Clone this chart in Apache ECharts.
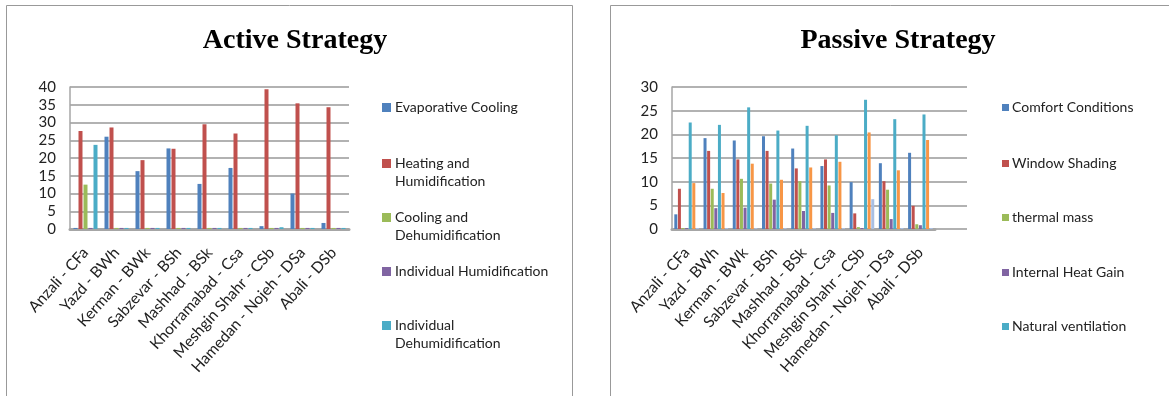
<!DOCTYPE html>
<html><head><meta charset="utf-8">
<script src="https://cdn.jsdelivr.net/npm/echarts@6/dist/echarts.min.js"></script>
<style>html,body{margin:0;padding:0;background:#fff}#c{width:1169px;height:396px}</style>
</head><body><div id="c"></div>
<script>
const categories = ['Anzali - CFa','Yazd - BWh','Kerman - BWk','Sabzevar - BSh','Mashhad - BSk','Khorramabad - Csa','Meshgin Shahr - CSb','Hamedan - Nojeh - DSa','Abali - DSb'];

// Active strategy
const evaporativeCooling      = [0.3, 26.0, 16.3, 22.7, 12.7, 17.2, 0.8, 10.0, 1.7];
const heatingHumidification   = [27.6, 28.6, 19.4, 22.6, 29.5, 26.9, 39.4, 35.4, 34.3];
const coolingDehumidification = [12.5, 0.3, 0.3, 0.3, 0.3, 0.3, 0.3, 0.3, 0.3];
const individualHumidification= [0.3, 0.3, 0.3, 0.3, 0.3, 0.3, 0.3, 0.3, 0.3];
const individualDehumid       = [23.7, 0.3, 0.3, 0.3, 0.3, 0.3, 0.5, 0.3, 0.3];

// Passive strategy
const comfortConditions  = [3.1, 19.2, 18.7, 19.6, 17.0, 13.3, 9.9, 13.9, 16.1];
const windowShading      = [8.5, 16.5, 14.7, 16.5, 12.8, 14.7, 3.3, 10.1, 4.9];
const thermalMass        = [0.2, 8.5, 10.6, 9.6, 10.1, 9.2, 0.4, 8.3, 1.0];
const internalHeatGain   = [0.2, 4.4, 4.5, 6.2, 3.8, 3.4, 0.2, 2.1, 0.8];
const naturalVentilation = [22.5, 22.0, 25.7, 20.8, 21.8, 19.8, 27.3, 23.2, 24.2];
const series6Values      = [9.7, 7.6, 13.8, 10.4, 13.0, 14.2, 20.4, 12.4, 18.8];
const series7Values      = [0.2, 0.2, 0.2, 0.2, 0.2, 0.2, 6.3, 0.2, 0.2];

const activeTicks = [0, 40, 5];
const passiveTicks = [0, 30, 5];

const activeNames = ['Evaporative Cooling','Heating and Humidification','Cooling and Dehumidification','Individual Humidification','Individual Dehumidification'];
const passiveNames = ['Comfort Conditions','Window Shading','thermal mass','Internal Heat Gain','Natural ventilation','Series 6','Series 7'];

const colors = ['#4F81BD','#C0504D','#9BBB59','#8064A2','#4BACC6','#F79646','#A9BFE3'];
const FONT = 'Lato';

const chart = echarts.init(document.getElementById('c'));

function barSeries(name, data, idx, axisIdx, w, gap) {
  return {
    type: 'bar', name, data, xAxisIndex: axisIdx, yAxisIndex: axisIdx,
    barWidth: w, barGap: gap,
    itemStyle: { color: colors[idx] },
    animation: false
  };
}

const activeData = [evaporativeCooling, heatingHumidification, coolingDehumidification, individualHumidification, individualDehumid];
const passiveData = [comfortConditions, windowShading, thermalMass, internalHeatGain, naturalVentilation, series6Values, series7Values];

const series = [];
activeData.forEach((d, i) => series.push(barSeries(activeNames[i], d, i, 0, 4, '25%')));
passiveData.forEach((d, i) => series.push(barSeries(passiveNames[i], d, i, 2, 3, '20%')));

// legends (one per item)
const legends = [];
const actTops = [105, 161, 215, 269, 323];
const actFirst = ['Evaporative Cooling','Heating and','Cooling and','Individual Humidification','Individual'];
const actSecond = [null,'Humidification','Dehumidification',null,'Dehumidification'];
activeNames.forEach((n, i) => {
  legends.push({ data: [n], left: 382, top: actTops[i] - 9, orient: 'vertical',
    itemWidth: 9, itemHeight: 9, itemGap: 0, padding: [4.5, 0, 4.5, 0],
    icon: 'rect', selectedMode: false, formatter: () => actFirst[i],
    textStyle: { fontFamily: FONT, fontSize: 14, color: '#222', padding: [0, 0, 0, -1] } });
});
const pasTops = [104, 160, 214, 269, 323];
passiveNames.slice(0, 5).forEach((n, i) => {
  legends.push({ data: [n], left: 1002, top: pasTops[i] - 8, orient: 'vertical',
    itemWidth: 7, itemHeight: 7, itemGap: 0, padding: [4.5, 0, 4.5, 0],
    icon: 'rect', selectedMode: false,
    textStyle: { fontFamily: FONT, fontSize: 14, color: '#222', padding: [0, 0, 0, -2] } });
});

const graphics = [
  { type: 'rect', shape: { x: 6.5, y: 5.5, width: 566, height: 400 }, style: { fill: 'none', stroke: '#999', lineWidth: 1 }, z: -1 },
  { type: 'rect', shape: { x: 610.5, y: 5.5, width: 600, height: 400 }, style: { fill: 'none', stroke: '#999', lineWidth: 1 }, z: -1 }
];
actSecond.forEach((t, i) => {
  if (t) graphics.push({ type: 'text', left: 395, top: actTops[i] + 13, style: { text: t, font: '14px ' + FONT, fill: '#222' } });
});

const xLabel = { interval: 0, rotate: 48, fontFamily: FONT, fontSize: 15.5, color: '#222', margin: 21 };
const yLabel = { fontFamily: FONT, fontSize: 15, color: '#222', margin: 14 };

chart.setOption({
  animation: false,
  title: [
    { text: 'Active Strategy', left: 290, top: 22, textAlign: 'center',
      textStyle: { fontFamily: 'Liberation Serif', fontWeight: 'bold', fontSize: 28, color: '#000' } },
    { text: 'Passive Strategy', left: 893, top: 22, textAlign: 'center',
      textStyle: { fontFamily: 'Liberation Serif', fontWeight: 'bold', fontSize: 28, color: '#000' } }
  ],
  legend: legends,
  graphic: graphics,
  grid: [
    { left: 70, top: 87, width: 279, height: 142 },
    { left: 672, top: 87, width: 295, height: 142 },
    { left: 672, top: 87, width: 263, height: 142 }
  ],
  xAxis: [
    { type: 'category', gridIndex: 0, data: categories, axisTick: { show: false },
      axisLine: { lineStyle: { color: '#a6a6a6', width: 3 } }, axisLabel: xLabel },
    { type: 'category', gridIndex: 1, data: [''], show: false },
    { type: 'category', gridIndex: 2, data: categories, axisTick: { show: false },
      axisLine: { lineStyle: { color: '#a6a6a6', width: 3 } }, axisLabel: xLabel }
  ],
  yAxis: [
    { type: 'value', gridIndex: 0, min: activeTicks[0], max: activeTicks[1], interval: activeTicks[2],
      axisLine: { show: true, lineStyle: { color: '#a6a6a6', width: 1.5 } }, axisTick: { show: false },
      splitLine: { lineStyle: { color: '#999', width: 1.5 } }, axisLabel: yLabel },
    { type: 'value', gridIndex: 1, min: passiveTicks[0], max: passiveTicks[1], interval: passiveTicks[2],
      axisLine: { show: true, lineStyle: { color: '#a6a6a6', width: 1.5 } }, axisTick: { show: false },
      splitLine: { lineStyle: { color: '#999', width: 1.5 } }, axisLabel: yLabel },
    { type: 'value', gridIndex: 2, min: passiveTicks[0], max: passiveTicks[1], interval: passiveTicks[2],
      show: false, splitLine: { show: false } }
  ],
  series
});
</script></body></html>
